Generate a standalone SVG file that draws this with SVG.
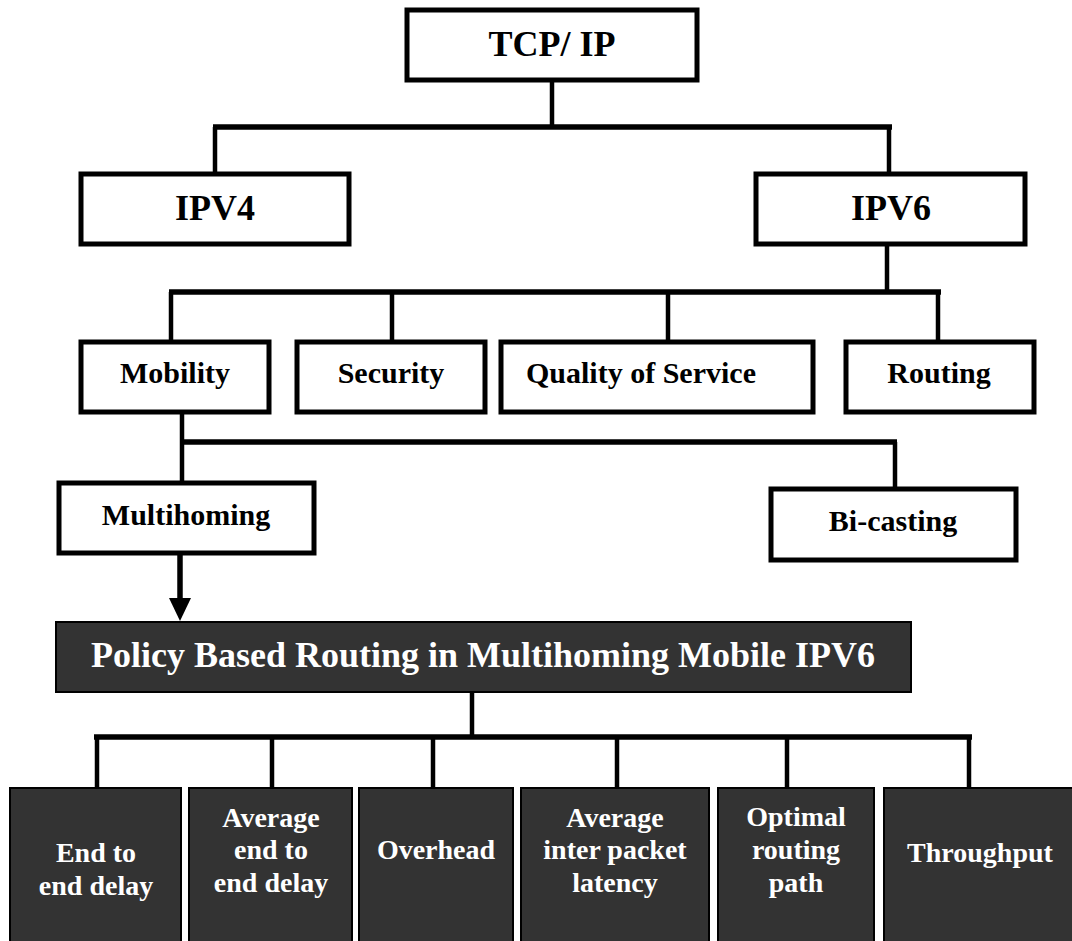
<svg xmlns="http://www.w3.org/2000/svg" width="1072" height="941" viewBox="0 0 1072 941">
<style>
.w{fill:#fff;stroke:#000;stroke-width:5}
.d{fill:#333;stroke:#000;stroke-width:2}
.t{font-family:"Liberation Serif","Times New Roman",serif;font-weight:bold;text-anchor:middle;fill:#000}
.tw{font-family:"Liberation Serif","Times New Roman",serif;font-weight:bold;text-anchor:middle;fill:#fff}
.h{stroke:#000;stroke-width:5.5;fill:none}
.v{stroke:#000;stroke-width:4.5;fill:none}
</style>
<rect width="1072" height="941" fill="#fff"/>
<g id="connectors">
<line class="v" x1="552" y1="82" x2="552" y2="127"/>
<line class="h" x1="213" y1="127" x2="892" y2="127"/>
<line class="v" x1="215" y1="127" x2="215" y2="172"/>
<line class="v" x1="889" y1="127" x2="889" y2="172"/>
<line class="v" x1="887" y1="246" x2="887" y2="292"/>
<line class="h" x1="169" y1="292" x2="941" y2="292"/>
<line class="v" x1="171" y1="292" x2="171" y2="340"/>
<line class="v" x1="392" y1="292" x2="392" y2="340"/>
<line class="v" x1="668" y1="292" x2="668" y2="340"/>
<line class="v" x1="938" y1="292" x2="938" y2="340"/>
<line class="v" x1="182" y1="414" x2="182" y2="481"/>
<line class="h" x1="182" y1="442" x2="897" y2="442"/>
<line class="v" x1="895" y1="442" x2="895" y2="487"/>
<line class="h" x1="180" y1="555" x2="180" y2="600"/>
<polygon points="169,598 191,598 180,621" fill="#000"/>
<line class="v" x1="472" y1="692" x2="472" y2="737"/>
<line class="h" x1="94" y1="737" x2="972" y2="737"/>
<line class="v" x1="97" y1="737" x2="97" y2="788"/>
<line class="v" x1="272" y1="737" x2="272" y2="788"/>
<line class="v" x1="433" y1="737" x2="433" y2="788"/>
<line class="v" x1="617" y1="737" x2="617" y2="788"/>
<line class="v" x1="787" y1="737" x2="787" y2="788"/>
<line class="v" x1="969" y1="737" x2="969" y2="788"/>
</g>
<g id="tcpip"><rect class="w" x="407" y="10" width="290" height="70"/><text class="t" x="552" y="56" font-size="36">TCP/ IP</text></g>
<g id="ipv4"><rect class="w" x="81" y="174" width="268" height="70"/><text class="t" x="215" y="220" font-size="36">IPV4</text></g>
<g id="ipv6"><rect class="w" x="756" y="174" width="269" height="70"/><text class="t" x="891" y="220" font-size="36">IPV6</text></g>
<g id="mobility"><rect class="w" x="81" y="342" width="188" height="70"/><text class="t" x="175" y="383" font-size="30">Mobility</text></g>
<g id="security"><rect class="w" x="297" y="342" width="188" height="70"/><text class="t" x="391" y="383" font-size="30">Security</text></g>
<g id="qos"><rect class="w" x="501" y="342" width="312" height="70"/><text class="t" x="641" y="383" font-size="30">Quality of Service</text></g>
<g id="routing"><rect class="w" x="846" y="342" width="188" height="70"/><text class="t" x="939" y="383" font-size="30">Routing</text></g>
<g id="multihoming"><rect class="w" x="59" y="483" width="255" height="70"/><text class="t" x="186" y="525" font-size="30">Multihoming</text></g>
<g id="bicasting"><rect class="w" x="771" y="489" width="245" height="71"/><text class="t" x="893" y="531" font-size="30">Bi-casting</text></g>
<g id="policy"><rect class="d" x="56" y="622" width="855" height="70"/><text class="tw" x="483" y="667" font-size="36">Policy Based Routing in Multihoming Mobile IPV6</text></g>
<g id="e2e"><rect class="d" x="10" y="788" width="171" height="160"/><text class="tw" font-size="28"><tspan x="96" y="862">End to</tspan><tspan x="96" y="895">end delay</tspan></text></g>
<g id="avge2e"><rect class="d" x="189" y="788" width="163" height="160"/><text class="tw" font-size="28"><tspan x="271" y="827">Average</tspan><tspan x="271" y="859">end to</tspan><tspan x="271" y="892">end delay</tspan></text></g>
<g id="overhead"><rect class="d" x="359" y="788" width="154" height="160"/><text class="tw" x="436" y="859" font-size="28">Overhead</text></g>
<g id="latency"><rect class="d" x="521" y="788" width="188" height="160"/><text class="tw" font-size="28"><tspan x="615" y="827">Average</tspan><tspan x="615" y="859">inter packet</tspan><tspan x="615" y="892">latency</tspan></text></g>
<g id="optimal"><rect class="d" x="718" y="788" width="156" height="160"/><text class="tw" font-size="28"><tspan x="796" y="826">Optimal</tspan><tspan x="796" y="859">routing</tspan><tspan x="796" y="892">path</tspan></text></g>
<g id="throughput"><rect class="d" x="884" y="788" width="192" height="160"/><text class="tw" x="980" y="862" font-size="28">Throughput</text></g>
</svg>
